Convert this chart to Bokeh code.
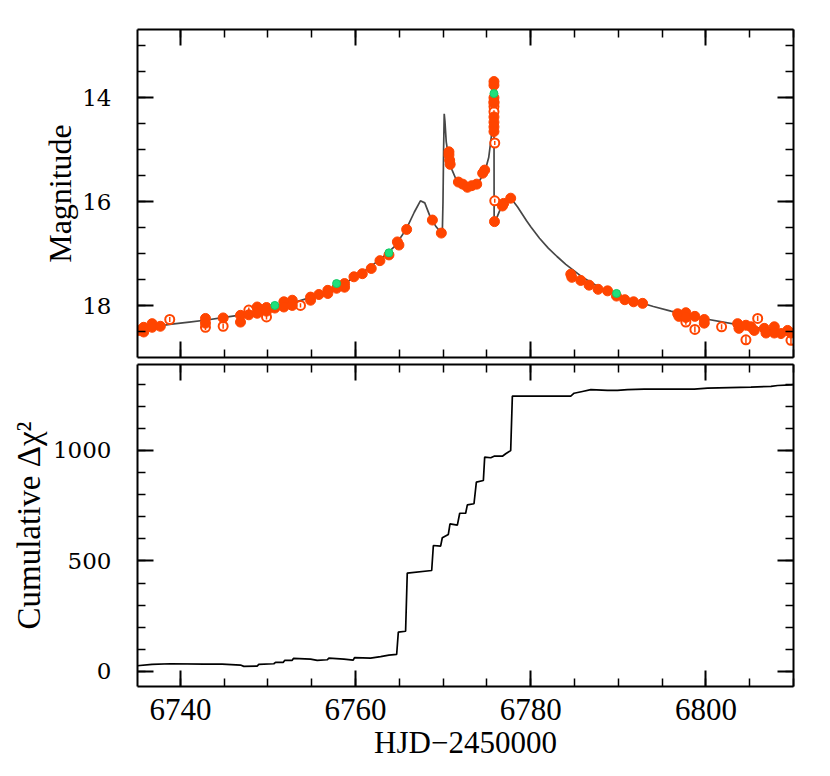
from bokeh.plotting import figure
from bokeh.models import (Range1d, LinearAxis, SingleIntervalTicker, ColumnDataSource,
                          CustomJSTickFormatter)
from bokeh.layouts import column
from bokeh.embed import file_html
from bokeh.resources import INLINE

# ---------------- data ----------------
# model light curve (HJD-2450000, magnitude)
model_t = [6735.1, 6737.0, 6739.0, 6741.0, 6743.0, 6745.0, 6747.0, 6749.0, 6751.0, 6753.0,
           6755.0, 6757.0, 6759.0, 6761.0, 6763.0, 6764.5, 6765.8, 6766.7, 6767.4, 6767.9,
           6768.5, 6769.2, 6769.9, 6769.98, 6770.05, 6770.12, 6770.2, 6770.35, 6770.6, 6771.0,
           6771.5, 6772.2, 6772.9, 6773.6, 6774.2, 6774.8, 6775.2, 6775.5, 6775.7, 6775.8,
           6775.82, 6775.9, 6776.5, 6777.2, 6777.6, 6778.0, 6778.5, 6779.0, 6779.5, 6780.0,
           6781.0, 6782.0, 6783.0, 6784.0, 6785.0, 6786.0, 6788.0, 6790.0, 6792.0, 6794.0,
           6796.0, 6798.0, 6800.0, 6802.0, 6804.0, 6806.0, 6808.0, 6810.0]
model_mag = [18.45, 18.40, 18.35, 18.31, 18.27, 18.22, 18.17, 18.10, 18.02, 17.93,
             17.83, 17.70, 17.54, 17.33, 17.08, 16.85, 16.52, 16.20, 15.98, 16.02,
             16.28, 16.48, 16.62, 16.00, 15.00, 14.31, 14.45, 14.85, 15.12, 15.38,
             15.58, 15.70, 15.74, 15.70, 15.58, 15.40, 15.15, 14.75, 14.20, 13.85,
             16.38, 16.40, 16.15, 15.98, 15.95, 15.99, 16.10, 16.23, 16.36, 16.48,
             16.70, 16.89, 17.05, 17.20, 17.33, 17.46, 17.66, 17.80, 17.91, 18.01,
             18.10, 18.18, 18.25, 18.31, 18.37, 18.42, 18.47, 18.52]

# filled data points
fill_t = [6735.23, 6735.81, 6735.81, 6736.77, 6736.77, 6737.71, 6742.86, 6742.86, 6744.88, 6746.86,
          6746.86, 6747.81, 6748.77, 6748.77, 6749.83, 6749.83, 6750.78, 6751.81, 6751.81, 6752.77,
          6752.77, 6754.86, 6754.86, 6755.81, 6756.83, 6756.83, 6757.83, 6758.74, 6758.74, 6759.81,
          6760.77, 6761.79, 6762.78, 6763.81, 6764.77, 6764.95, 6765.83, 6768.77, 6769.79, 6770.66,
          6770.66, 6770.74, 6770.80, 6771.74, 6772.23, 6772.77, 6773.26, 6773.83, 6774.51, 6774.74,
          6775.80, 6775.80, 6775.80, 6775.80, 6775.80, 6775.80, 6775.80, 6775.80, 6775.86, 6776.77,
          6776.91, 6777.71, 6784.57, 6784.69, 6785.71, 6786.66, 6787.69, 6788.77, 6789.79, 6790.74,
          6791.74, 6792.77, 6796.77, 6796.91, 6797.71, 6797.71, 6798.74, 6799.81, 6799.81, 6803.62,
          6803.77, 6804.57, 6805.14, 6805.52, 6806.66, 6806.86, 6807.81, 6807.81, 6808.57, 6809.33,
          6809.71]
fill_mag = [18.47, 18.50, 18.41, 18.34, 18.41, 18.39, 18.24, 18.33, 18.23, 18.18,
            18.31, 18.17, 18.02, 18.14, 18.03, 18.10, 18.04, 17.92, 18.02, 17.89,
            17.99, 17.83, 17.89, 17.78, 17.70, 17.76, 17.66, 17.57, 17.64, 17.44,
            17.38, 17.28, 17.13, 17.02, 16.77, 16.83, 16.53, 16.35, 16.60, 15.04,
            15.10, 15.20, 15.28, 15.62, 15.66, 15.72, 15.69, 15.66, 15.45, 15.39,
            13.69, 13.76, 14.00, 14.10, 14.37, 14.47, 14.56, 14.65, 16.38, 16.08,
            16.03, 15.93, 17.39, 17.45, 17.51, 17.60, 17.68, 17.71, 17.81, 17.88,
            17.92, 17.95, 18.15, 18.20, 18.13, 18.22, 18.20, 18.26, 18.33, 18.34,
            18.43, 18.37, 18.40, 18.47, 18.43, 18.52, 18.40, 18.52, 18.53, 18.47,
            18.52]

# open data points with error bars
open_t = [6738.78, 6742.86, 6744.88, 6747.81, 6749.83, 6753.71, 6775.80, 6775.80, 6775.80, 6775.89,
          6775.89, 6797.71, 6798.74, 6801.79, 6804.57, 6805.91, 6809.71]
open_mag = [18.26, 18.41, 18.39, 18.08, 18.21, 17.99, 14.08, 14.17, 14.27, 14.87,
            15.98, 18.31, 18.45, 18.40, 18.65, 18.24, 18.66]
open_err = [0.05, 0.05, 0.05, 0.05, 0.05, 0.04, 0.03, 0.03, 0.03, 0.04,
            0.04, 0.05, 0.06, 0.05, 0.07, 0.05, 0.07]

# second observatory (green)
green_t = [6750.78, 6757.83, 6763.81, 6775.80, 6789.79]
green_mag = [17.99, 17.57, 16.98, 13.92, 17.76]

# cumulative delta chi^2
chi_t = [6735.05, 6736.76, 6738.86, 6742.67, 6744.76, 6746.86, 6747.24, 6748.76, 6748.95, 6750.67,
         6750.86, 6751.73, 6751.90, 6752.76, 6752.90, 6754.86, 6755.62, 6756.76, 6756.95, 6758.67,
         6759.73, 6759.88, 6761.71, 6762.86, 6763.81, 6764.69, 6764.88, 6765.71, 6765.90, 6768.69,
         6768.88, 6769.71, 6769.90, 6770.59, 6770.78, 6771.62, 6771.89, 6772.57, 6772.76, 6773.52,
         6773.79, 6774.59, 6774.74, 6775.43, 6775.81, 6776.76, 6777.14, 6777.71, 6777.90, 6784.57,
         6784.95, 6785.90, 6786.86, 6788.76, 6789.90, 6791.05, 6792.95, 6798.67, 6800.19, 6805.14,
         6807.43, 6808.19, 6809.71, 6810.0]
chi_val = [26, 32, 35, 33, 33, 29, 23, 24, 32, 35,
           41, 41, 50, 50, 59, 56, 50, 53, 60, 56,
           51, 63, 60, 67, 74, 77, 178, 182, 445, 457,
           570, 567, 605, 620, 668, 662, 716, 716, 754, 759,
           857, 864, 970, 967, 974, 974, 985, 1000, 1246, 1246,
           1259, 1267, 1275, 1272, 1272, 1275, 1278, 1278, 1282, 1287,
           1290, 1294, 1297, 1298]

x_range_vals = (6735.1, 6810.0)
mag_range_vals = (18.99, 12.69)
chi_range_vals = (-68, 1389)

ORANGE = "#FF4500"
GREEN = "#1FE07C"

SERIF_TICK = "DejaVu Serif"
SERIF_LABEL = "Liberation Serif"


def add_axes(p, x_interval, x_minor, y_interval, y_minor, show_x, ylabel, ylabel_size,
             ylabel_standoff):
    def mk(kind, interval, minor, labels, label=None, standoff=0, label_size="31px"):
        ax = LinearAxis(ticker=SingleIntervalTicker(interval=interval, num_minor_ticks=minor))
        ax.axis_line_width = 2
        ax.axis_line_color = "black"
        ax.major_tick_in = 16
        ax.major_tick_out = 0
        ax.minor_tick_in = 8
        ax.minor_tick_out = 0
        ax.major_tick_line_width = 2
        ax.minor_tick_line_width = 1.5
        ax.major_tick_line_color = "black"
        ax.minor_tick_line_color = "black"
        if labels:
            ax.major_label_text_color = "black"
            if kind == "x":
                ax.major_label_text_font = SERIF_LABEL
                ax.major_label_text_font_size = "31px"
                ax.major_label_standoff = 12
            else:
                ax.major_label_text_font = SERIF_TICK
                ax.major_label_text_font_size = "23px"
                ax.major_label_standoff = 26
        else:
            ax.formatter = CustomJSTickFormatter(code="return ''")
            ax.major_label_text_font_size = "1px"
            ax.major_label_standoff = 0
        if label:
            ax.axis_label = label
            ax.axis_label_text_font = SERIF_LABEL
            ax.axis_label_text_font_size = label_size
            ax.axis_label_text_font_style = "normal"
            ax.axis_label_text_color = "black"
            ax.axis_label_standoff = standoff
        return ax

    p.add_layout(mk("x", x_interval, x_minor, show_x,
                    "HJD\u22122450000" if show_x else None, 2, "31px"), "below")
    p.add_layout(mk("x", x_interval, x_minor, False), "above")
    p.add_layout(mk("y", y_interval, y_minor, True, ylabel, ylabel_standoff, ylabel_size), "left")
    p.add_layout(mk("y", y_interval, y_minor, False), "right")
    p.grid.grid_line_color = None


common = dict(output_backend="svg", toolbar_location=None, x_axis_location=None,
              y_axis_location=None, background_fill_color="white",
              border_fill_color="white", outline_line_color=None)

p1 = figure(frame_width=656, frame_height=328,
            x_range=Range1d(*x_range_vals), y_range=Range1d(*mag_range_vals),
            min_border_left=137, min_border_right=20, min_border_top=29, min_border_bottom=3,
            **common)
add_axes(p1, 20, 4, 2, 4, False, "Magnitude", "32px", 1)

p1.line(model_t, model_mag, line_color="#474747", line_width=1.7)

osrc = ColumnDataSource(dict(t=open_t, m=open_mag,
                             lo=[m - e for m, e in zip(open_mag, open_err)],
                             hi=[m + e for m, e in zip(open_mag, open_err)]))
p1.scatter("t", "m", source=osrc, size=9, fill_color="white", line_color=ORANGE, line_width=2)
p1.segment("t", "lo", "t", "hi", source=osrc, line_color=ORANGE, line_width=1.5)

p1.scatter(fill_t, fill_mag, size=10, fill_color=ORANGE, line_color=ORANGE, line_width=1)
p1.scatter(green_t, green_mag, size=8, fill_color=GREEN, line_color="#14C864", line_width=1)

p2 = figure(frame_width=656, frame_height=322,
            x_range=Range1d(*x_range_vals), y_range=Range1d(*chi_range_vals),
            min_border_left=137, min_border_right=20, min_border_top=4, min_border_bottom=84,
            **common)
add_axes(p2, 20, 4, 500, 5, True, "Cumulative \u0394\u03c7\u00b2", "33px", 3)

p2.line(chi_t, chi_val, line_color="black", line_width=1.7)

layout = column(p1, p2, spacing=0)

open("out.html", "w").write(file_html(layout, INLINE))
